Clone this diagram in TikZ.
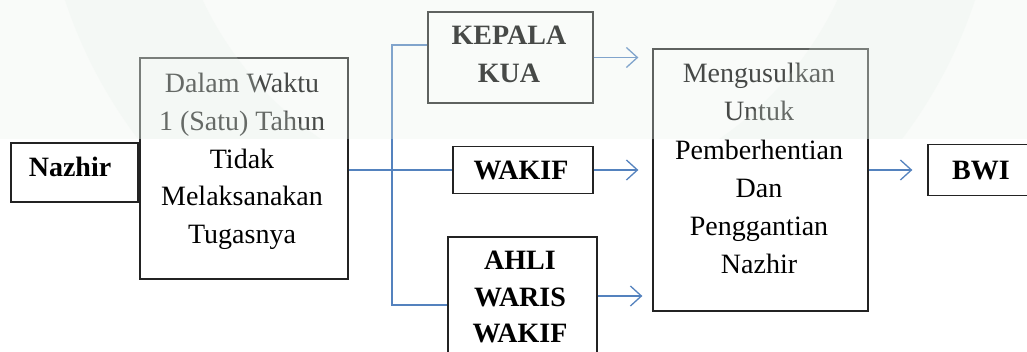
\documentclass[tikz,border=0pt]{standalone}
\usepackage{fontspec}
\setmainfont{Liberation Serif}
\usetikzlibrary{arrows.meta}
\definecolor{connc}{RGB}{84,130,190}
\definecolor{boxc}{RGB}{35,35,35}
\definecolor{wmark}{RGB}{236,244,238}
\definecolor{wring}{RGB}{226,238,229}
\begin{document}
\begin{tikzpicture}[x=1pt,y=-1pt,
  box/.style={draw=boxc, line width=1.3pt, inner sep=0pt},
  txt/.style={font=\fontsize{28}{37.75}\selectfont, align=center, inner sep=0pt, text=black},
  btxt/.style={txt, font=\fontsize{28}{37.5}\selectfont\bfseries},
  conn/.style={draw=connc, line width=1.4pt},
  arr/.style={conn, -{Straight Barb[length=11pt,width=20pt,line width=1.3pt]}}]
\useasboundingbox (0,0) rectangle (1027,352);
\fill[white] (0,0) rectangle (1027,352);
% boxes
\node[box, minimum width=127pt, minimum height=59pt] (naz) at (74.5,172.5) {};
\node[box, minimum width=208pt, minimum height=221pt] (dal) at (244,168.5) {};
\node[box, minimum width=165pt, minimum height=91pt] (kep) at (510.5,57.5) {};
\node[box, minimum width=140pt, minimum height=47pt] (wak) at (523,170) {};
\node[box, minimum width=149pt, minimum height=118pt] (ahl) at (522.5,296) {};
\node[box, minimum width=215pt, minimum height=262pt] (meng) at (760.5,180) {};
\node[box, minimum width=110pt, minimum height=51pt] (bwi) at (983,170) {};
% texts
\node[btxt, anchor=base] (tnaz) at (70,177) {Nazhir};
\node[txt, anchor=north] (tdal) at (242,73) {Dalam Waktu\\1 (Satu) Tahun\\Tidak\\Melaksanakan\\Tugasnya};
\node[btxt, anchor=north, font=\fontsize{28}{38}\selectfont\bfseries] (tkep) at (509,26.3) {KEPALA\\KUA};
\node[btxt, anchor=base] (twak) at (521,180) {WAKIF};
\node[btxt, anchor=north, font=\fontsize{28}{36.5}\selectfont\bfseries] (tahl) at (520,251.3) {AHLI\\WARIS\\WAKIF};
\node[txt, anchor=north, font=\fontsize{28}{38.2}\selectfont] (tmeng) at (759,63) {Mengusulkan\\Untuk\\Pemberhentian\\Dan\\Penggantian\\Nazhir};
\node[btxt, anchor=base] (tbwi) at (981,180) {BWI};
% connectors
\coordinate (jtop) at (392,45);
\coordinate (jbot) at (392,305);
\draw[conn] (dal.east |- wak.west) -- (wak.west);
\draw[conn] (kep.west |- jtop) -- (jtop) -- (jbot) -- (ahl.west |- jbot);
\draw[arr] (kep.east) -- ([xshift=-14pt]kep.east -| meng.west);
\draw[arr] (wak.east) -- ([xshift=-14pt]wak.east -| meng.west);
\draw[arr] (ahl.east) -- ([xshift=-10pt]ahl.east -| meng.west);
\draw[arr] (meng.east |- bwi.west) -- ([xshift=-15pt]bwi.west);
% faint watermark
\begin{scope}
  \clip (0,0) rectangle (1027,139);
  \fill[wmark, opacity=0.3] (0,0) rectangle (1027,139);
  \fill[wring, opacity=0.2, even odd rule] (520,-150) circle (479) (520,-150) circle (351);
\end{scope}
\end{tikzpicture}
\end{document}
